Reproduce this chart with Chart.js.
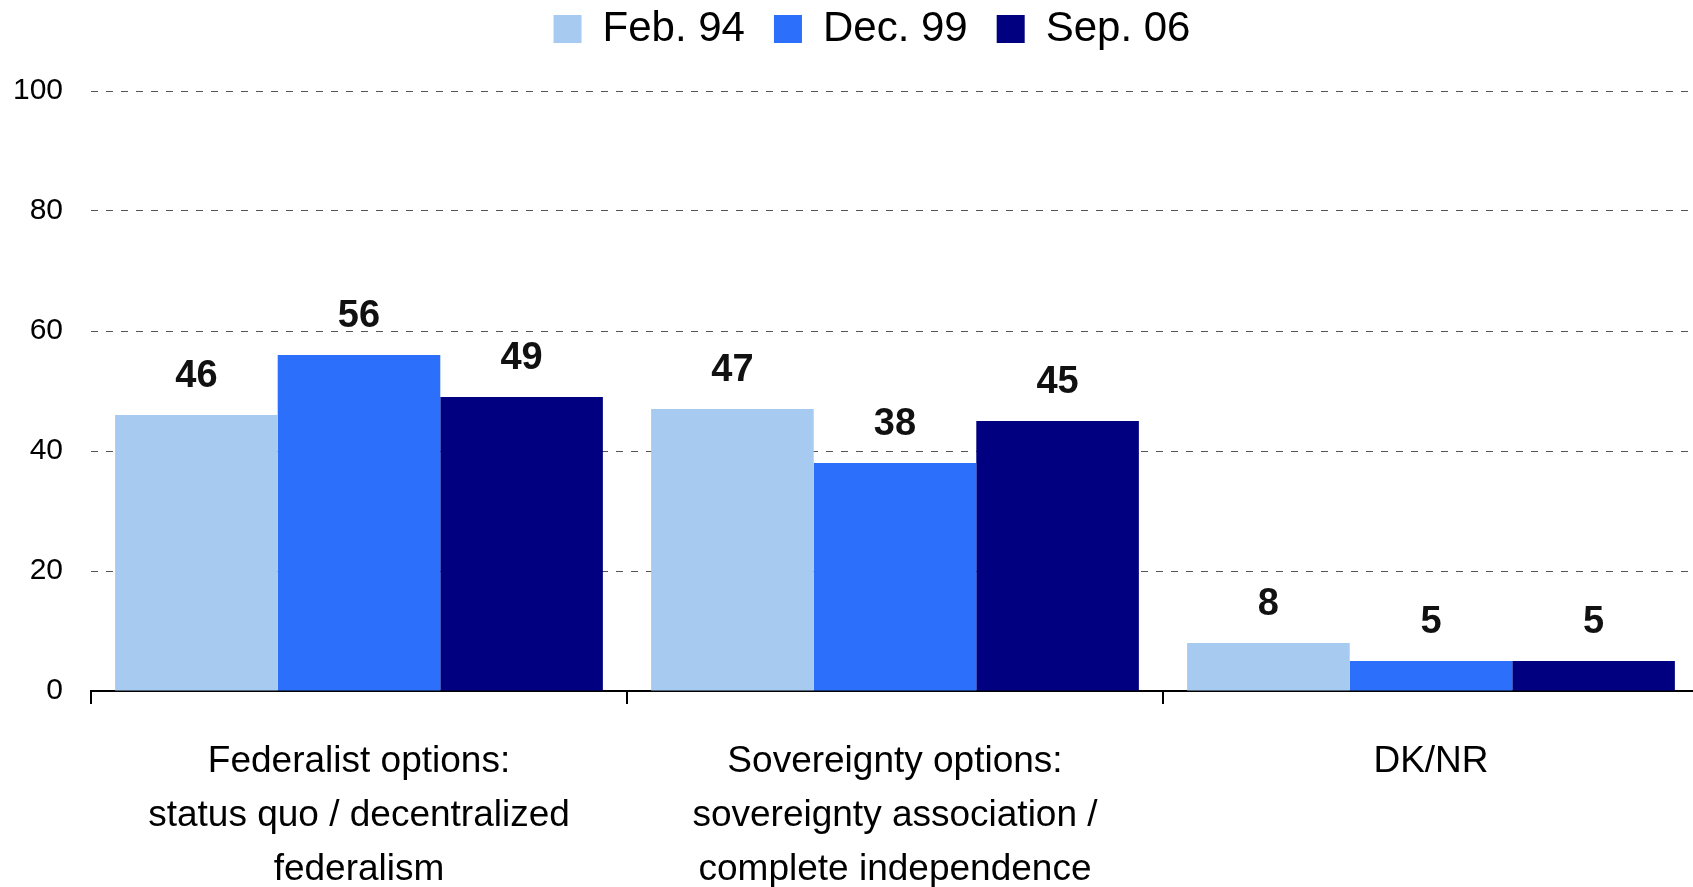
<!DOCTYPE html>
<html>
<head>
<meta charset="utf-8">
<script src="https://cdn.jsdelivr.net/npm/chart.js@4/dist/chart.umd.min.js"></script>
<style>
  html, body { margin: 0; padding: 0; background: #fff; overflow: hidden; }
  #wrap { width: 1693px; height: 887px; overflow: hidden; }
</style>
</head>
<body>
<!-- plot runs a few px past the right edge, like the original -->
<div id="wrap"><canvas id="myChart" width="1699" height="887"></canvas></div>
<script>
// chart values
var categories = [
  ['Federalist options:', 'status quo / decentralized', 'federalism'],
  ['Sovereignty options:', 'sovereignty association /', 'complete independence'],
  'DK/NR'
];
var seriesNames = ['Feb. 94', 'Dec. 99', 'Sep. 06'];
var feb94 = [46, 47, 8];
var dec99 = [56, 38, 5];
var sep06 = [49, 45, 5];
var yMin = 0, yMax = 100, yStep = 20;

var colors = ['#A6CAF0', '#2C6FFA', '#000080'];

Chart.defaults.font.family = '"Liberation Sans", Arial, sans-serif';
Chart.defaults.color = '#000';

// numbers above the bars
var valueLabels = {
  id: 'valueLabels',
  afterDatasetsDraw: function(chart) {
    var ctx = chart.ctx;
    ctx.save();
    ctx.font = 'bold 38px "Liberation Sans", Arial, sans-serif';
    ctx.fillStyle = '#111';
    ctx.textAlign = 'center';
    ctx.textBaseline = 'middle';
    chart.data.datasets.forEach(function(ds, i) {
      chart.getDatasetMeta(i).data.forEach(function(bar, j) {
        ctx.fillText(ds.data[j], bar.x, bar.y - 38);
      });
    });
    ctx.restore();
  }
};

// legend sits a bit right of the canvas centre
var legendShift = {
  id: 'legendShift',
  afterLayout: function(chart) {
    chart.legend.left = 45;
  }
};

var chart = new Chart(document.getElementById('myChart'), {
  type: 'bar',
  data: {
    labels: categories,
    datasets: [
      { label: seriesNames[0], data: feb94, backgroundColor: colors[0] },
      { label: seriesNames[1], data: dec99, backgroundColor: colors[1] },
      { label: seriesNames[2], data: sep06, backgroundColor: colors[2] }
    ]
  },
  options: {
    responsive: false,
    animation: false,
    layout: { padding: { top: -21, left: 0, right: 0, bottom: 0 } },
    datasets: {
      bar: { categoryPercentage: 0.91, barPercentage: 1, borderWidth: 0 }
    },
    plugins: {
      tooltip: { enabled: false },
      legend: {
        position: 'top',
        labels: {
          font: { size: 42 },
          boxWidth: 28,
          boxHeight: 28,
          padding: 29,
          color: '#000'
        }
      },
      // empty spacer between legend and plot
      subtitle: {
        display: true,
        text: '',
        weight: 500,
        font: { size: 10, lineHeight: 1.2 },
        padding: { top: 0, bottom: 19 }
      }
    },
    scales: {
      x: {
        grid: {
          display: true,
          drawOnChartArea: false,
          drawTicks: true,
          tickLength: 13,
          color: '#000',
          lineWidth: 2,
          offset: true
        },
        border: { display: true, color: '#000', width: 2 },
        ticks: {
          font: { size: 37, lineHeight: 1.46 },
          color: '#000',
          padding: 31,
          maxRotation: 0,
          autoSkip: false
        },
        afterFit: function(scale) {
          scale.height = 196;
          scale.paddingLeft = 0;
          scale.paddingRight = 0;
        }
      },
      y: {
        min: yMin,
        max: yMax,
        ticks: {
          stepSize: yStep,
          font: { size: 30 },
          color: '#000',
          padding: 28
        },
        grid: {
          drawTicks: false,
          lineWidth: 1,
          color: function(c) { return c.tick && c.tick.value === 0 ? 'rgba(0,0,0,0)' : '#555'; }
        },
        border: { display: false, dash: [7, 8] },
        afterFit: function(scale) {
          scale.width = 91;
          scale.paddingTop = 0;
          scale.paddingBottom = 0;
        }
      }
    }
  },
  plugins: [valueLabels, legendShift]
});
</script>
</body>
</html>
